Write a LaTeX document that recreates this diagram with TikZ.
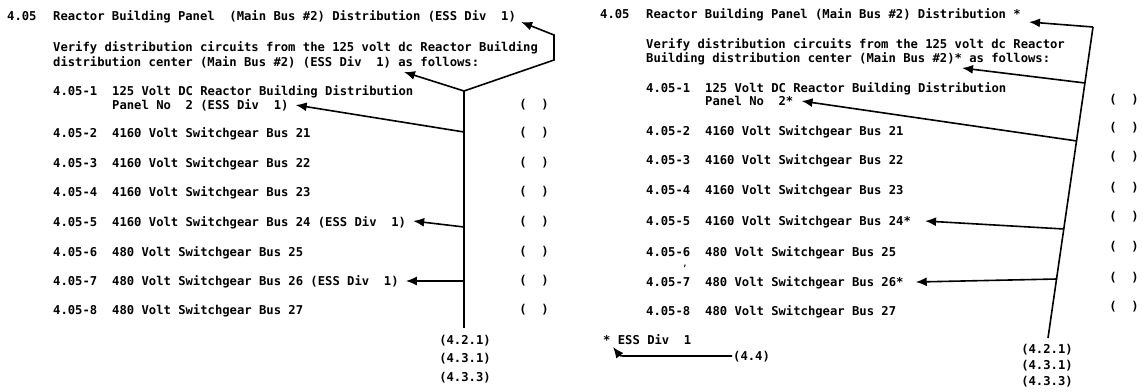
\documentclass[tikz,border=0pt]{standalone}
\usepackage{fontspec}
\setmonofont{DejaVu Sans Mono}
\usetikzlibrary{arrows.meta}
\begin{document}
\begin{tikzpicture}
[x=1pt,y=-1pt,
  textdecorate/.style={anchor=base west,inner sep=0pt,
    font=\ttfamily\bfseries\fontsize{12.2}{13.5}\selectfont},
  markdecorate/.style={anchor=center,inner sep=0pt,
    font=\ttfamily\bfseries\fontsize{12.2}{13.5}\selectfont},
  linedecorate/.style={-,line width=1.6pt},
  arrowdecorate/.style={-{Latex[length=11pt,width=9pt]},line width=1.6pt}]
\useasboundingbox (0,0) rectangle (1143,391);
%% left sheet: heading and paragraph
\node[textdecorate] (lnum) at (7,20) {4.05};
\node[textdecorate] (lhead) at (53,20) {Reactor Building Panel~ (Main Bus \#2) Distribution (ESS Div~ 1)};
\node[textdecorate] (lverA) at (53,51) {Verify distribution circuits from the 125 volt dc Reactor Building};
\node[textdecorate] (lverB) at (53,66) {distribution center (Main Bus \#2) (ESS Div~ 1) as follows:};
%% left sheet: items
\node[textdecorate] (lnumA) at (53,95) {4.05-1};
\node[textdecorate] (litemA) at (112,95) {125 Volt DC Reactor Building Distribution};
\node[textdecorate] (litemAA) at (112,109) {Panel No~ 2 (ESS Div~ 1)};
\foreach \nodename/\num/\txt/\y in {B/2/4160 Volt Switchgear Bus 21/137,
  C/3/4160 Volt Switchgear Bus 22/167, D/4/4160 Volt Switchgear Bus 23/196,
  E/5/4160 Volt Switchgear Bus 24 (ESS Div~ 1)/226,
  F/6/480 Volt Switchgear Bus 25/256,
  G/7/480 Volt Switchgear Bus 26 (ESS Div~ 1)/285,
  H/8/480 Volt Switchgear Bus 27/314} {
  \node[textdecorate] (lnum\nodename) at (53,\y) {4.05-\num};
  \node[textdecorate] (litem\nodename) at (112,\y) {\txt};
}
\foreach \nodename/\y in {A/105, B/133, C/163, D/192, E/222, F/252, G/281, H/310} {
  \node[markdecorate] (lbox\nodename) at (534,\y) {(~ )};
}
\foreach \nodename/\txt/\y in {A/4.2.1/341, B/4.3.1/359, C/4.3.3/378} {
  \node[markdecorate] (lref\nodename) at (465,\y) {(\txt)};
}
%% left sheet: connectors
\coordinate (ljoin) at (464,91);
\coordinate (lbend) at (554,60);
\coordinate (lcorner) at (554,35);
\coordinate (lbot) at (464,328);
\coordinate (lhitA) at (464,132);
\coordinate (lhitE) at (464,227);
\coordinate (lhitG) at (464,281);
\coordinate (lverTip) at (404,72);
\draw[linedecorate] (ljoin) -- (lbot);
\draw[arrowdecorate] (ljoin) -- (lbend) -- (lcorner) -- ([xshift=5pt,yshift=-2pt]lhead.base east);
\draw[arrowdecorate] (ljoin) -- (lverTip);
\draw[arrowdecorate] (lhitA) -- ([xshift=7pt,yshift=4pt]litemAA.base east);
\draw[arrowdecorate] (lhitE) -- ([xshift=7pt,yshift=5pt]litemE.base east);
\draw[arrowdecorate] (lhitG) -- ([xshift=7pt,yshift=4pt]litemG.base east);
%% right sheet: heading and paragraph
\node[textdecorate] (rnum) at (600,18) {4.05};
\node[textdecorate] (rhead) at (646,18) {Reactor Building Panel (Main Bus \#2) Distribution *};
\node[textdecorate] (rverA) at (646,48) {Verify distribution circuits from the 125 volt dc Reactor};
\node[textdecorate] (rverB) at (646,62) {Building distribution center (Main Bus \#2)* as follows:};
%% right sheet: items
\node[textdecorate] (rnumA) at (646,92) {4.05-1};
\node[textdecorate] (ritemA) at (705,92) {125 Volt DC Reactor Building Distribution};
\node[textdecorate] (ritemAA) at (705,105) {Panel No~ 2*};
\foreach \nodename/\num/\txt/\y in {B/2/4160 Volt Switchgear Bus 21/135,
  C/3/4160 Volt Switchgear Bus 22/164, D/4/4160 Volt Switchgear Bus 23/194,
  E/5/4160 Volt Switchgear Bus 24*/225, F/6/480 Volt Switchgear Bus 25/256,
  G/7/480 Volt Switchgear Bus 26*/286, H/8/480 Volt Switchgear Bus 27/315} {
  \node[textdecorate] (rnum\nodename) at (646,\y) {4.05-\num};
  \node[textdecorate] (ritem\nodename) at (705,\y) {\txt};
}
\node[markdecorate,font=\ttfamily\bfseries\fontsize{8}{9}\selectfont] (rspeck) at (685,266) {,};
\foreach \nodename/\y in {A/100, B/128, C/157, D/188, E/217, F/247, G/278, H/307} {
  \node[markdecorate] (rbox\nodename) at (1124,\y) {(~ )};
}
\foreach \nodename/\txt/\y in {A/4.2.1/350, B/4.3.1/366, C/4.3.3/382} {
  \node[markdecorate] (rref\nodename) at (1047,\y) {(\txt)};
}
\node[textdecorate] (rnote) at (603,344) {* ESS Div~ 1};
\node[textdecorate] (rnoteref) at (733,360) {(4.4)};
%% right sheet: connectors
\coordinate (rtop) at (1093,27);
\coordinate (rbot) at (1048,338);
\coordinate (rhitV) at (1085,83);
\coordinate (rhitA) at (1077,141);
\coordinate (rhitE) at (1064,229);
\coordinate (rhitG) at (1057,279);
\coordinate (rverTip) at (962,68);
\coordinate (rturn) at (628,356);
\draw[linedecorate] (rtop) -- (rbot);
\draw[arrowdecorate] (rtop) -- ([xshift=8pt,yshift=-4pt]rhead.base east);
\draw[arrowdecorate] (rhitV) -- (rverTip);
\draw[arrowdecorate] (rhitA) -- ([xshift=8pt,yshift=4pt]ritemAA.base east);
\draw[arrowdecorate] (rhitE) -- ([xshift=14pt,yshift=4pt]ritemE.base east);
\draw[arrowdecorate] (rhitG) -- ([xshift=12pt,yshift=4pt]ritemG.base east);
\draw[arrowdecorate] ([xshift=-1pt,yshift=4pt]rnoteref.base west) -- (rturn)
  .. controls (620,356) .. (613,347);
\end{tikzpicture}
\end{document}
